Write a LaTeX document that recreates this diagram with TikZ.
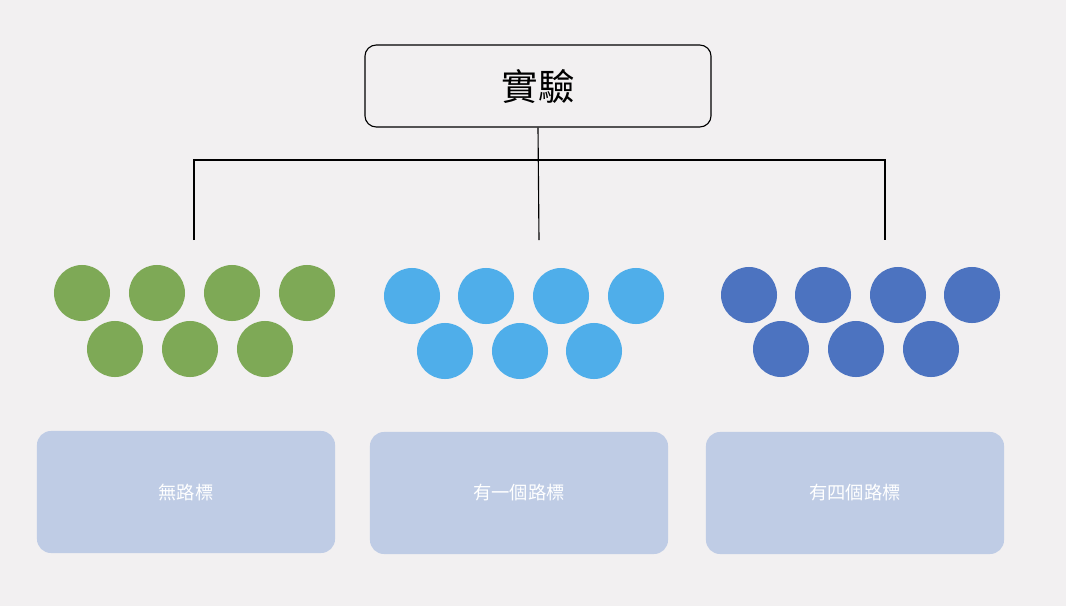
\documentclass[tikz,border=0pt]{standalone}
\usepackage{fontspec}
\newfontfamily\cjk{Noto Sans CJK TC}
\definecolor{bgc}{HTML}{F2F0F1}
\definecolor{grn}{HTML}{7EA956}
\definecolor{lblu}{HTML}{4FAEEA}
\definecolor{dblu}{HTML}{4C73C0}
\definecolor{boxc}{HTML}{BFCCE5}
\tikzset{
  dot/.style={circle,minimum size=56\pgflinewidth,inner sep=0pt,minimum size=1.4cm},
  group/.style={rounded corners=10pt,fill=boxc,minimum width=7.45cm,minimum height=3.05cm,text=white,font=\cjk\fontsize{13}{13}\selectfont},
}
\begin{document}
\begin{tikzpicture}[x=0.025cm,y=-0.025cm]
	\fill[bgc] (0,0) rectangle (1066,606);
	\useasboundingbox (0,0) rectangle (1066,606);
	\node[draw,thick,rounded corners=8pt,minimum width=8.65cm,minimum height=2.05cm,font=\cjk\fontsize{26}{26}\selectfont] (exp) at (538,86) {實驗};
	\coordinate (tl) at (194,240);
	\coordinate (tm) at (539,240);
	\coordinate (tr) at (885,240);
	\draw[thick] (exp.south) -- (tm);
	\draw[thick] (tl) |- (539,160) -| (tr);
	% circles
	\foreach \c/\x/\y in {grn/82/293,grn/157/293,grn/232/293,grn/307/293,grn/115/349,grn/190/349,grn/265/349,
		lblu/412/296,lblu/486/296,lblu/561/296,lblu/636/296,lblu/445/351,lblu/520/351,lblu/594/351,
		dblu/749/295,dblu/823/295,dblu/898/295,dblu/972/295,dblu/781/349,dblu/856/349,dblu/931/349}
		\node[dot,fill=\c] (d-\c-\x) at (\x,\y) {};
	% labels
	\node[group] (none) at (186,492) {無路標};
	\node[group] (one) at (519,493) {有一個路標};
	\node[group] (four) at (855,493) {有四個路標};
\end{tikzpicture}
\end{document}
